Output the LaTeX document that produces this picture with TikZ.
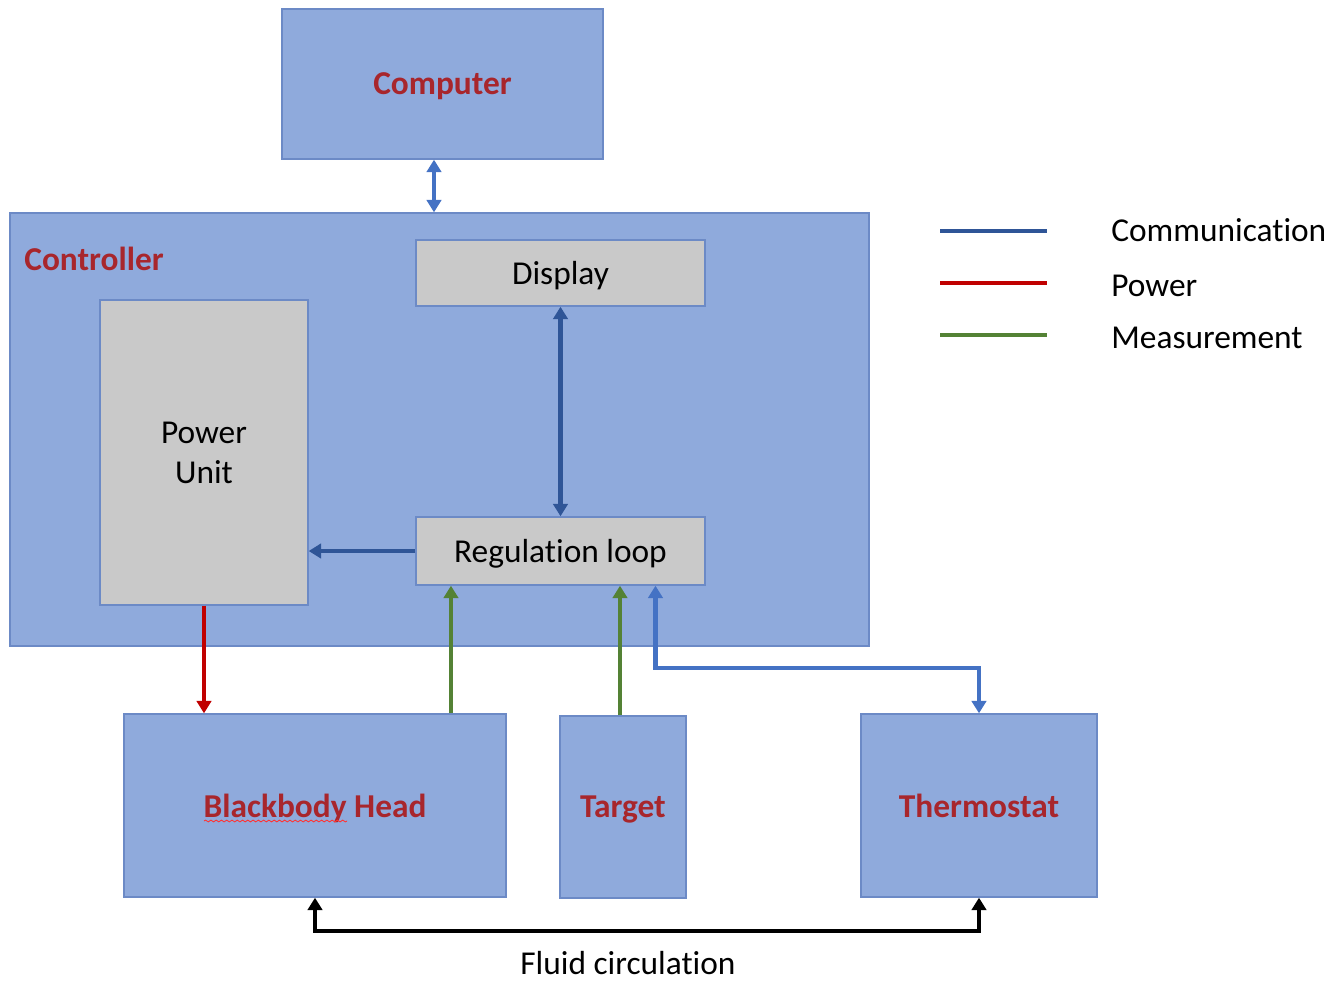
\documentclass[tikz,border=0pt]{standalone}
\usepackage{fontspec}
\setmainfont[Ligatures=NoCommon]{Carlito}
\usetikzlibrary{arrows.meta}
\usetikzlibrary{decorations.pathmorphing}

\definecolor{boxblue}{RGB}{143,170,220}
\definecolor{boxline}{RGB}{108,138,198}
\definecolor{boxgray}{RGB}{201,201,201}
\definecolor{titlered}{RGB}{168,38,44}
\definecolor{commdark}{RGB}{47,85,151}
\definecolor{commlight}{RGB}{68,114,196}
\definecolor{powred}{RGB}{192,0,0}
\definecolor{measgreen}{RGB}{84,130,53}

\begin{document}
\begin{tikzpicture}[x=0.02cm,y=-0.02cm,
  font=\fontsize{19}{23}\selectfont,
  bluebox/.style={draw=boxline,line width=0.8pt,fill=boxblue,inner sep=0pt,text depth=0pt,
    font=\fontsize{19}{23}\selectfont\bfseries,text=titlered},
  graybox/.style={draw=boxline,line width=0.8pt,fill=boxgray,inner sep=0pt,text depth=0pt,align=center},
  tip/.style={line width=2.4pt,-{Triangle[width=0.29cm,length=0.25cm]}},
  twotip/.style={line width=2.4pt,{Triangle[width=0.29cm,length=0.25cm]}-{Triangle[width=0.29cm,length=0.25cm]}}]

\useasboundingbox (0,0) rectangle (1343,981);

% Computer
\node[bluebox,minimum width=6.42cm,minimum height=3cm] (comp) at (442.5,84) {Computer};

% Controller with its parts
\node[bluebox,minimum width=17.18cm,minimum height=8.66cm] (ctrl) at (439.5,429.5) {};
\node[anchor=west,font=\fontsize{19}{23}\selectfont\bfseries,text=titlered,inner sep=0pt,text depth=0pt] (ctrllbl) at (24,259) {Controller};
\node[graybox,minimum width=5.78cm,minimum height=1.32cm] (disp) at (560.5,273) {Display};
\node[graybox,minimum width=4.16cm,minimum height=6.1cm] (pwr) at (204,452.5) {Power\\Unit};
\node[graybox,minimum width=5.78cm,minimum height=1.36cm] (reg) at (560.5,551) {Regulation loop};

% devices below
\node[bluebox,minimum width=7.64cm,minimum height=3.66cm] (bb) at (315,805.5) {Blackbody Head};
\node[bluebox,minimum width=2.52cm,minimum height=3.64cm] (tgt) at (623,807) {Target};
\node[bluebox,minimum width=4.72cm,minimum height=3.66cm] (thermo) at (979,805.5) {Thermostat};

% spelling mark under Blackbody
\draw[red!80,line width=0.5pt,decorate,decoration={snake,amplitude=0.5pt,segment length=3pt}] (204,821) -- (347,821);

% communication
\draw[twotip,commlight] ([xshift=-0.17cm]comp.south) -- ([xshift=-0.17cm]comp.south |- ctrl.north);
\draw[twotip,commdark] (disp.south) -- (reg.north);
\draw[tip,commdark] (reg.west) -- (pwr.east |- reg.west);
\draw[twotip,commlight] ([xshift=1.9cm]reg.south) -- ++(0,82) -| (thermo.north);

% power
\draw[tip,powred] (pwr.south) -- (pwr.south |- bb.north);

% measurement
\draw[tip,measgreen] ([xshift=2.72cm]bb.north) -- ([xshift=2.72cm]bb.north |- reg.south);
\draw[tip,measgreen] ([xshift=-0.06cm]tgt.north) -- ([xshift=-0.06cm]tgt.north |- reg.south);

% fluid circulation
\draw[twotip,black] (bb.south) -- ++(0,33) -| (thermo.south);
\node[text depth=0pt] (fluid) at (628,963) {Fluid circulation};

% legend
\draw[line width=2.4pt,commdark] (940,231) -- (1047,231);
\draw[line width=2.4pt,powred] (940,283) -- (1047,283);
\draw[line width=2.4pt,measgreen] (940,335) -- (1047,335);
\node[anchor=west,inner sep=0pt,text depth=0pt] (lgcomm) at (1111,230) {Communication};
\node[anchor=west,inner sep=0pt,text depth=0pt] (lgpow) at (1111,286) {Power};
\node[anchor=west,inner sep=0pt,text depth=0pt] (lgmeas) at (1111,338) {Measurement};

\end{tikzpicture}
\end{document}
